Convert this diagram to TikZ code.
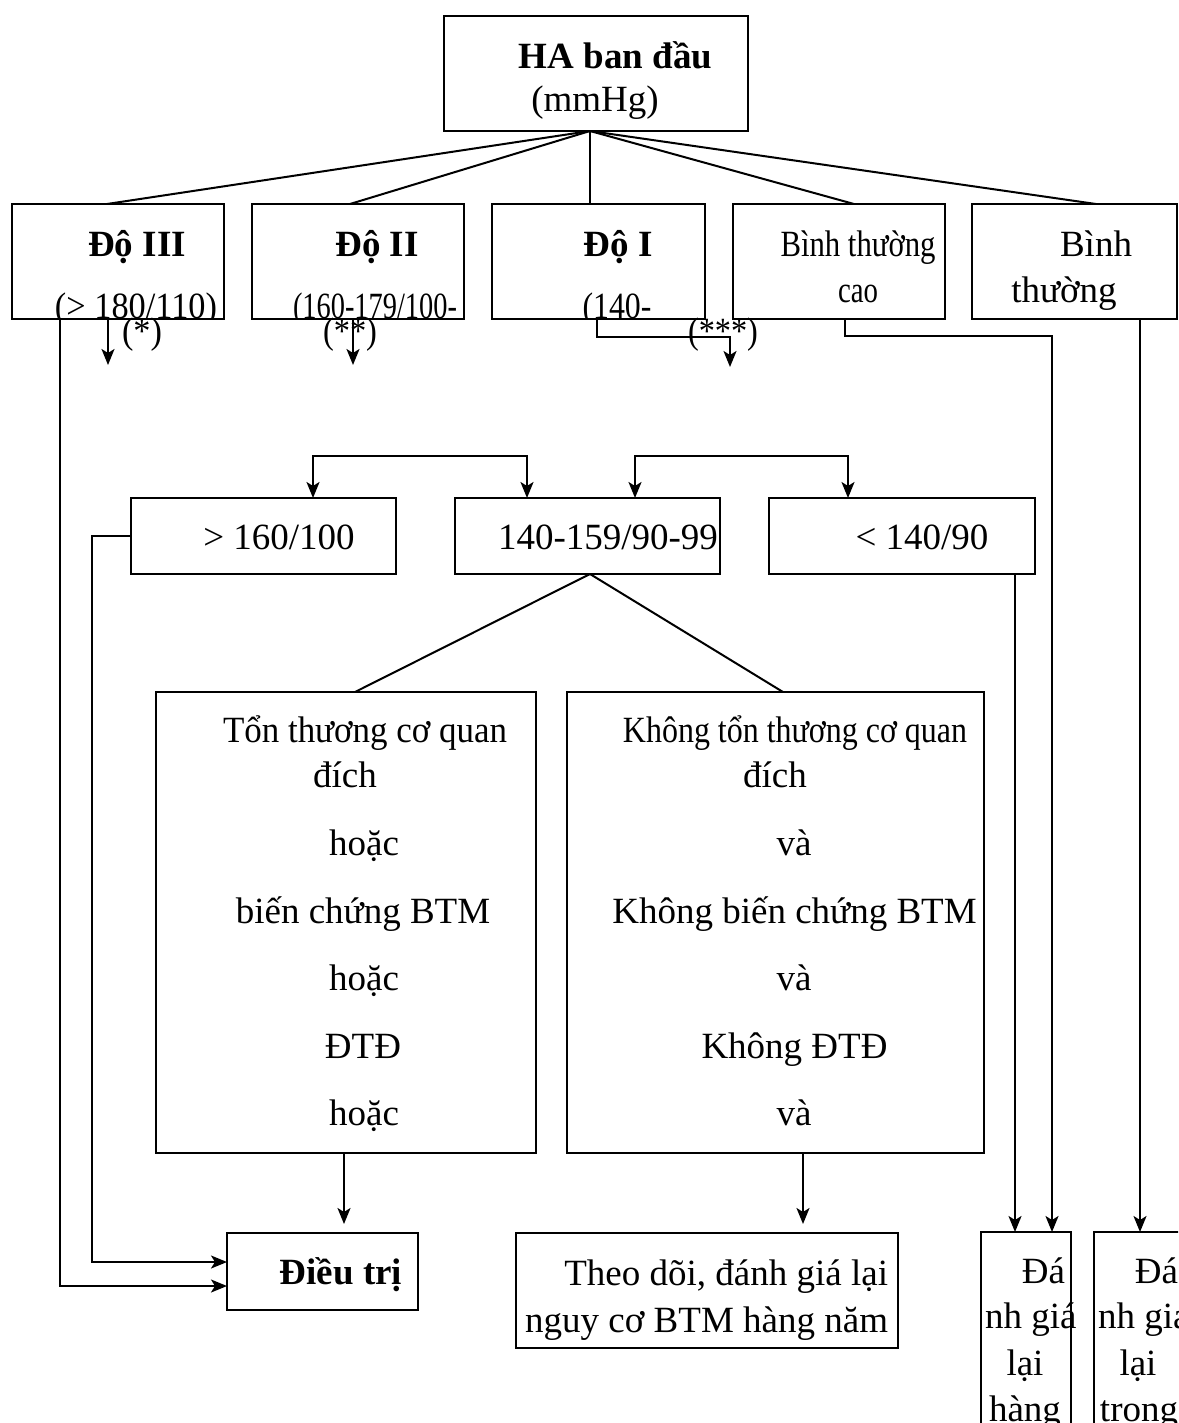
\documentclass[tikz,border=0pt]{standalone}
\usepackage{fontspec}
\setmainfont{Liberation Serif}
\usepackage{graphicx}
\usetikzlibrary{arrows.meta,calc}
\tikzset{
 box/.style={draw, line width=2pt, rectangle, inner sep=0pt, outer sep=0pt, anchor=north west},
 txt/.style={inner sep=0pt, outer sep=0pt, anchor=base, font=\fontsize{37}{44}\selectfont},
 txtr/.style={txt, anchor=base east},
 txtl/.style={txt, anchor=base west},
 bold/.style={font=\fontsize{37}{44}\selectfont\bfseries},
 conn/.style={line width=2pt},
 arr/.style={conn, -{Stealth[length=16pt,width=13pt,inset=4pt]}},
 darr/.style={conn, {Stealth[length=16pt,width=13pt,inset=4pt]}-{Stealth[length=16pt,width=13pt,inset=4pt]}},
}
\newcommand\boxat[5]{\node[box, minimum width={(#4-#2)*1pt}, minimum height={(#5-#3)*1pt}] (#1) at (#2,#3) {};}
\newcommand\fitw[2]{\resizebox{#1pt}{\height}{#2}}
\begin{document}
\begin{tikzpicture}[x=1pt,y=-1pt]
\useasboundingbox (0,0) rectangle (1178,1423);
\clip (0,0) rectangle (1178,1423);
% boxes
\boxat{ha}{444}{16}{748}{131}
\boxat{d3}{12}{204}{224}{319}
\boxat{d2}{252}{204}{464}{319}
\boxat{d1}{492}{204}{705}{319}
\boxat{btc}{733}{204}{945}{319}
\boxat{bt}{972}{204}{1177}{319}
\boxat{m1}{131}{498}{396}{574}
\boxat{m2}{455}{498}{720}{574}
\boxat{m3}{769}{498}{1035}{574}
\boxat{ton}{156}{692}{536}{1153}
\boxat{khong}{567}{692}{984}{1153}
\boxat{dieutri}{227}{1233}{418}{1310}
\boxat{theo}{516}{1233}{898}{1348}
\boxat{dga}{981}{1232}{1071}{1450}
\boxat{dgb}{1094}{1232}{1210}{1450}
% texts
\node[txt,bold] (tha) at (615.5,69) {HA ban đầu};
\node[txt] (tmm) at (595,112) {(mmHg)};
\node[txt,bold] (td3) at (137,257) {Độ III};
\node[txt,bold] (td2) at (377,257) {Độ II};
\node[txt,bold] (td1) at (618,257) {Độ I};
\begin{scope}
\clip (d3.north west) rectangle (d3.south east);
\node[txt] (td3b) at (136,318) {\fitw{162}{(> 180/110)}};
\end{scope}
\begin{scope}
\clip (d2.north west) rectangle (d2.south east);
\node[txt] (td2b) at (375,318) {\fitw{164}{(160-179/100-}};
\end{scope}
\begin{scope}
\clip (d1.north west) rectangle (d1.south east);
\node[txt] (td1b) at (617,318) {\fitw{69}{(140-}};
\end{scope}
\node[txt] (td3c) at (142,343) {\fitw{40}{(*)}};
\node[txt] (td2c) at (350,343) {\fitw{54}{(**)}};
\node[txt] (td1c) at (723,343) {\fitw{70}{(***)}};
\node[txt] (tbtc1) at (858,257) {\fitw{155}{Bình thường}};
\node[txt] (tbtc2) at (858,302) {\fitw{40}{cao}};
\node[txt] (tbt1) at (1096,257) {Bình};
\node[txt] (tbt2) at (1064,302) {thường};
\node[txt] (tm1) at (279,549) {> 160/100};
\node[txt] (tm2) at (608,549) {140-159/90-99};
\node[txt] (tm3) at (922,549) {< 140/90};
\node[txt] (tt1) at (365,742) {\fitw{284}{Tổn thương cơ quan}};
\node[txt] (tt2) at (345,787) {đích};
\node[txt] (tt3) at (364,855) {hoặc};
\node[txt] (tt4) at (363,923) {biến chứng BTM};
\node[txt] (tt5) at (364,990) {hoặc};
\node[txt] (tt6) at (363,1058) {ĐTĐ};
\node[txt] (tt7) at (364,1125) {hoặc};
\node[txt] (tk1) at (795,742) {\fitw{344}{Không tổn thương cơ quan}};
\node[txt] (tk2) at (775,787) {đích};
\node[txt] (tk3) at (794,855) {và};
\node[txt] (tk4) at (794.5,923) {Không biến chứng BTM};
\node[txt] (tk5) at (794,990) {và};
\node[txt] (tk6) at (794.5,1058) {Không ĐTĐ};
\node[txt] (tk7) at (794,1125) {và};
\node[txt,bold] (tdt) at (341,1284) {Điều trị};
\node[txtr] (tth1) at (888,1285) {Theo dõi, đánh giá lại};
\node[txtr] (tth2) at (888,1332) {nguy cơ BTM hàng năm};
\node[txtr] (tga1) at (1065,1283) {Đá};
\node[txtl] (tga2) at (985,1328) {nh giá};
\node[txt] (tga3) at (1025,1375) {lại};
\node[txt] (tga4) at (1025,1421) {hàng};
\node[txtr] (tgb1) at (1178,1283) {Đá};
\node[txtl] (tgb2) at (1098,1328) {nh giá};
\node[txt] (tgb3) at (1138,1375) {lại};
\node[txt] (tgb4) at (1139,1421) {trong};
% helper coordinates
\coordinate (apex) at (590,131);
\coordinate (e3) at (108,365);
\coordinate (e2) at (353,365);
\coordinate (k1) at (597,337);
\coordinate (e1) at (730,367);
\coordinate (k2) at (845,336);
\coordinate (x2) at (1052,0);
\coordinate (x3) at (1140,0);
\coordinate (x4) at (1015,0);
\coordinate (b1) at (313,456);
\coordinate (b2) at (527,456);
\coordinate (b3) at (635,456);
\coordinate (b4) at (848,456);
\coordinate (sp) at (590,574);
\coordinate (x5) at (344,0);
\coordinate (x6) at (803,0);
\coordinate (k8) at (92,1262);
\coordinate (k9) at (60,1286);
% fan
\draw[conn] (apex) -- ($(d3.north west)+(95,0)$);
\draw[conn] (apex) -- ($(d2.north west)+(98,0)$);
\draw[conn] (apex) -- ($(d1.north west)+(98,0)$);
\draw[conn] (apex) -- ($(btc.north west)+(121,0)$);
\draw[conn] (apex) -- ($(bt.north west)+(124,0)$);
% arrows from row
\draw[arr] (d3.south -| e3) -- (e3);
\draw[arr] (d2.south -| e2) -- (e2);
\draw[arr] (d1.south -| k1) -- (k1) -| (e1);
\draw[arr] (btc.south -| k2) -- (k2) -| (dga.north -| x2);
\draw[arr] (bt.south -| x3) -- (dgb.north -| x3);
\draw[arr] (m3.south -| x4) -- (dga.north -| x4);
% brackets
\draw[darr] (m1.north -| b1) -- (b1) -- (b2) -- (m2.north -| b2);
\draw[darr] (m2.north -| b3) -- (b3) -- (b4) -- (m3.north -| b4);
% split
\draw[conn] (sp) -- ($(ton.north west)+(199,0)$);
\draw[conn] (sp) -- ($(khong.north west)+(216,0)$);
% to bottom boxes
\draw[arr,shorten >=9pt] (ton.south -| x5) -- (dieutri.north -| x5);
\draw[arr,shorten >=9pt] (khong.south -| x6) -- (theo.north -| x6);
\draw[arr] (m1.west) -| (k8) -- (dieutri.west |- k8);
\draw[arr] (d3.south -| k9) -- (k9) -- (dieutri.west |- k9);
\end{tikzpicture}
\end{document}
